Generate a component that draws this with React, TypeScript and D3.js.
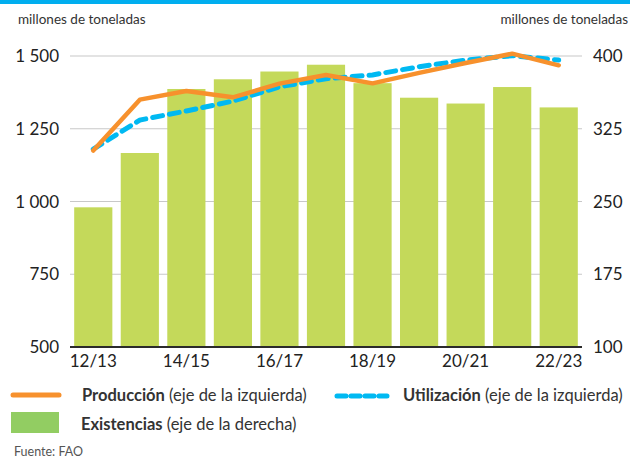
import { useEffect, useRef } from 'react';
import * as d3 from 'd3';

const seasons = ['12/13', '13/14', '14/15', '15/16', '16/17', '17/18', '18/19', '19/20', '20/21', '21/22', '22/23'];
const produccion = [1175, 1350, 1380, 1358, 1405, 1435, 1406, 1442, 1476, 1508, 1468];
const utilizacion = [1180, 1280, 1311, 1345, 1394, 1422, 1435, 1463, 1486, 1501, 1486];
const existencias = [244, 300, 366, 376, 384, 391, 372, 357, 351, 368, 347];
const leftTicks = [500, 750, 1000, 1250, 1500];
const rightTicks = [100, 175, 250, 325, 400];
const shownLabels = ['12/13', '14/15', '16/17', '18/19', '20/21', '22/23'];

const W = 630;
const H = 459;
const FONT = 'Lato, "Open Sans", sans-serif';

const App = () => {
  const svgRef = useRef<SVGSVGElement>(null);

  useEffect(() => {
    if (!svgRef.current) return;
    const svg = d3.select(svgRef.current);
    svg.selectAll('*').remove();

    const margin = { top: 56, right: 48, bottom: 112, left: 70 };
    const x0 = margin.left;
    const x1 = W - margin.right;
    const y0 = H - margin.bottom;
    const yTop = margin.top;

    // top blue rule
    svg.append('rect').attr('x', 0).attr('y', 0).attr('width', W).attr('height', 4).attr('fill', '#00aeef');

    const x = d3.scaleBand().domain(seasons).range([x0, x1]).paddingInner(0.18).paddingOuter(0.09);
    const yL = d3.scaleLinear().domain([500, 1500]).range([y0, yTop]);
    const yR = d3.scaleLinear().domain([100, 400]).range([y0, yTop]);

    // gridlines
    svg
      .append('g')
      .selectAll('line')
      .data(leftTicks.slice(1))
      .enter()
      .append('line')
      .attr('x1', x0)
      .attr('x2', x1)
      .attr('y1', d => yL(d))
      .attr('y2', d => yL(d))
      .attr('stroke', '#c8c8c8')
      .attr('stroke-width', 1.2);

    // bars
    svg
      .append('g')
      .selectAll('rect')
      .data(existencias)
      .enter()
      .append('rect')
      .attr('x', (_, i) => x(seasons[i]) as number)
      .attr('width', x.bandwidth())
      .attr('y', d => yR(d))
      .attr('height', d => y0 - yR(d))
      .attr('fill', '#c4d95a');

    // baseline
    svg
      .append('line')
      .attr('x1', x0)
      .attr('x2', x1)
      .attr('y1', y0)
      .attr('y2', y0)
      .attr('stroke', '#2b2b2b')
      .attr('stroke-width', 2);

    const cx = (i: number) => (x(seasons[i]) as number) + x.bandwidth() / 2;

    const line = d3
      .line<number>()
      .x((_, i) => cx(i))
      .y(d => yL(d));

    svg
      .append('path')
      .datum(utilizacion)
      .attr('fill', 'none')
      .attr('stroke', '#00b9f2')
      .attr('stroke-width', 5)
      .attr('stroke-linecap', 'round')
      .attr('stroke-dasharray', '10 7')
      .attr('d', line);

    svg
      .append('path')
      .datum(produccion)
      .attr('fill', 'none')
      .attr('stroke', '#f7912d')
      .attr('stroke-width', 4.5)
      .attr('stroke-linejoin', 'round')
      .attr('stroke-linecap', 'round')
      .attr('d', line);

    // left axis labels
    const fmt = (d: number) => d3.format(',')(d).replace(',', ' ');
    svg
      .append('g')
      .selectAll('text')
      .data(leftTicks)
      .enter()
      .append('text')
      .attr('x', 59)
      .attr('y', d => yL(d) + 6)
      .attr('text-anchor', 'end')
      .attr('font-size', 17)
      .attr('fill', '#222')
      .text(d => fmt(d));

    // right axis labels
    svg
      .append('g')
      .selectAll('text')
      .data(rightTicks)
      .enter()
      .append('text')
      .attr('x', 593)
      .attr('y', d => yR(d) + 6)
      .attr('font-size', 17)
      .attr('fill', '#222')
      .text(d => d);

    // x labels
    svg
      .append('g')
      .selectAll('text')
      .data(shownLabels)
      .enter()
      .append('text')
      .attr('x', d => (x(d) as number) + x.bandwidth() / 2)
      .attr('y', y0 + 20)
      .attr('text-anchor', 'middle')
      .attr('font-size', 17)
      .attr('fill', '#222')
      .text(d => d);

    // unit labels
    svg.append('text').attr('x', 18).attr('y', 24).attr('font-size', 13.5).attr('fill', '#333').text('millones de toneladas');
    svg
      .append('text')
      .attr('x', 628)
      .attr('y', 24)
      .attr('text-anchor', 'end')
      .attr('font-size', 13.5)
      .attr('fill', '#333')
      .text('millones de toneladas');

    // legend
    const legendText = (tx: number, ty: number, bold: string, rest: string) => {
      const t = svg.append('text').attr('x', tx).attr('y', ty).attr('font-size', 16.5).attr('fill', '#333');
      t.append('tspan').attr('font-weight', 'bold').text(bold);
      t.append('tspan').text(' ' + rest);
    };

    svg
      .append('line')
      .attr('x1', 13)
      .attr('x2', 59)
      .attr('y1', 395)
      .attr('y2', 395)
      .attr('stroke', '#f7912d')
      .attr('stroke-width', 5)
      .attr('stroke-linecap', 'round');
    legendText(82, 401, 'Producción', '(eje de la izquierda)');

    svg
      .append('line')
      .attr('x1', 337)
      .attr('x2', 387)
      .attr('y1', 396)
      .attr('y2', 396)
      .attr('stroke', '#00b9f2')
      .attr('stroke-width', 5)
      .attr('stroke-linecap', 'round')
      .attr('stroke-dasharray', '9 5');
    legendText(403, 401, 'Utilización', '(eje de la izquierda)');

    svg.append('rect').attr('x', 11).attr('y', 412).attr('width', 48).attr('height', 21).attr('fill', '#92cd62');
    legendText(81, 430, 'Existencias', '(eje de la derecha)');

    svg.append('text').attr('x', 14).attr('y', 456).attr('font-size', 12.5).attr('fill', '#555').text('Fuente: FAO');
  }, []);

  return (
    <svg
      ref={svgRef}
      width={W}
      height={H}
      style={{ position: 'absolute', left: 0, top: 0, background: '#fff', fontFamily: FONT }}
    />
  );
};

export default App;
